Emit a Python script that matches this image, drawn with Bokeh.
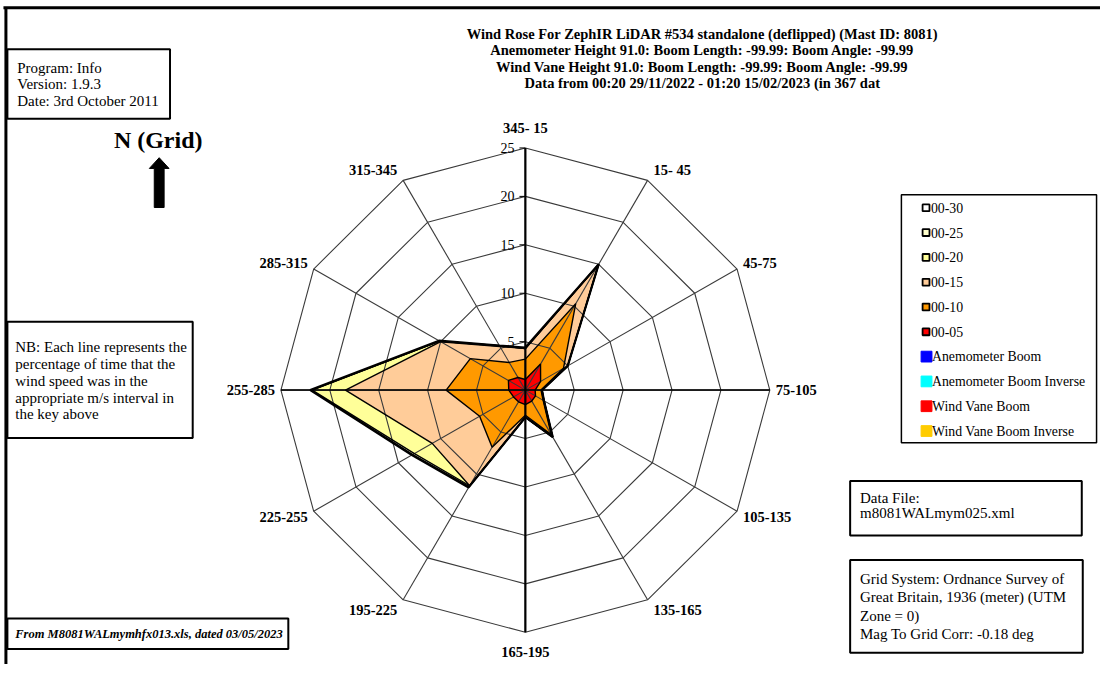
import numpy as np
from bokeh.plotting import figure
from bokeh.models import Range1d
from bokeh.core.properties import value
from bokeh.embed import file_html
from bokeh.resources import INLINE

# ---------------- data ----------------
directions = ["345- 15", "15- 45", "45-75", "75-105", "105-135", "135-165",
              "165-195", "195-225", "225-255", "255-285", "285-315", "315-345"]
dir_angles = [0, 30, 60, 90, 120, 150, 180, 210, 240, 270, 300, 330]

bins = ["00-30", "00-25", "00-20", "00-15", "00-10", "00-05"]
s_00_30 = [4.4, 15.0, 5.0, 1.7, 2.2, 5.6, 2.8, 11.6, 13.4, 22.0, 10.2, 5.3]
s_00_25 = [4.3, 15.0, 5.0, 1.7, 2.2, 5.6, 2.8, 11.5, 13.3, 21.9, 10.1, 5.3]
s_00_20 = [4.3, 15.0, 5.0, 1.7, 2.2, 5.6, 2.8, 11.4, 13.1, 21.8, 10.1, 5.3]
s_00_15 = [4.3, 14.9, 5.0, 1.7, 2.2, 5.5, 2.8, 11.4, 11.0, 18.4, 10.0, 5.2]
s_00_10 = [3.2, 10.3, 4.5, 1.6, 2.1, 5.3, 2.6, 6.8, 5.4, 8.1, 6.5, 3.3]
s_00_05 = [1.1, 3.1, 1.8, 1.0, 1.2, 1.3, 1.5, 1.4, 1.4, 1.7, 2.0, 1.5]
series = [s_00_30, s_00_25, s_00_20, s_00_15, s_00_10, s_00_05]
bin_colors = ["#FFFFFF", "#FFFFCC", "#FFFF99", "#FFCC99", "#FF9900", "#FF0000"]

ring_values = [5, 10, 15, 20, 25]
ring_labels = ["5", "10", "15", "20", "25"]

boom_names = ["Anemometer Boom", "Anemometer Boom Inverse", "Wind Vane Boom", "Wind Vane Boom Inverse"]
boom_colors = ["#0000FF", "#00FFFF", "#FF0000", "#FFCC00"]

title_lines = [
    "Wind Rose For ZephIR LiDAR #534 standalone (deflipped) (Mast ID: 8081)",
    "Anemometer Height 91.0: Boom Length: -99.99: Boom Angle: -99.99",
    "Wind Vane Height 91.0: Boom Length: -99.99: Boom Angle: -99.99",
    "Data from 00:20 29/11/2022 - 01:20 15/02/2023 (in 367 dat",
]
info_lines = ["Program: Info", "Version: 1.9.3", "Date: 3rd October 2011"]
nb_lines = ["NB: Each line represents the", "percentage of time that the",
            "wind speed was in the", "appropriate m/s interval in", "the key above"]
datafile_lines = ["Data File:", "m8081WALmym025.xml"]
grid_lines_txt = ["Grid System: Ordnance Survey of", "Great Britain, 1936 (meter) (UTM",
                  "Zone = 0)", "Mag To Grid Corr: -0.18 deg"]
source_note = "From M8081WALmymhfx013.xls, dated 03/05/2023"

# ---------------- layout ----------------
W, H = 1100, 664
p = figure(width=W, height=H, x_range=Range1d(0, 1116), y_range=Range1d(680, 0),
           output_backend="svg", toolbar_location=None, x_axis_type=None, y_axis_type=None,
           min_border=0)
p.outline_line_color = None
p.grid.visible = False
p.background_fill_color = "white"
p.border_fill_color = "white"

SERIF = value("Liberation Serif")
CX, CY, SC = 532.5, 399.0, 9.92   # rose centre and px per percent
ang = np.radians(dir_angles)

def pol(r, a):
    return CX + np.asarray(r) * SC * np.sin(a), CY - np.asarray(r) * SC * np.cos(a)

# page frame lines
p.line([3, 1116], [7.5, 7.5], line_color="black", line_width=3)
p.line([5.5, 5.5], [7, 680], line_color="black", line_width=3)

# filled series (largest first)
for vals, col in zip(series, bin_colors):
    xs, ys = pol(vals, ang)
    p.patch(list(xs), list(ys), fill_color=col, line_color=None)

# grid rings and spokes
for rv in ring_values:
    xs, ys = pol([rv] * 13, np.radians(dir_angles + [360]))
    p.line(list(xs), list(ys), line_color="#3a3a3a", line_width=1.1)
for a in ang:
    xs, ys = pol([0, 25], np.array([a, a]))
    p.line(list(xs), list(ys), line_color="#3a3a3a", line_width=1.1)
# main axes
xs, ys = pol([25, 25], np.radians([0, 180]))
p.line(list(xs), list(ys), line_color="black", line_width=2.2)
xs, ys = pol([25, 25], np.radians([90, 270]))
p.line(list(xs), list(ys), line_color="black", line_width=1.5)

# series outlines
for i, vals in enumerate(series):
    xs, ys = pol(vals + vals[:1], np.radians(dir_angles + [360]))
    p.line(list(xs), list(ys), line_color="black", line_width=2.2 if i == 0 else 1.4)

# radial tick labels
for rv, lab in zip(ring_values, ring_labels):
    y = CY - rv * SC
    p.line([CX - 6, CX], [y, y], line_color="black", line_width=1)
    p.text([CX - 11], [y], text=[lab], text_font=SERIF, text_font_size="14px",
           text_align="right", text_baseline="middle", text_color="black")

# direction labels
for lab, a in zip(directions, ang):
    vx, vy = pol(25, a)
    s, c = np.sin(a), np.cos(a)
    if abs(s) < 0.1:
        tx, ty = vx, vy - 20 * np.sign(c)
        align = "center"
    else:
        tx, ty = vx + 6 * np.sign(s), vy - 12 * c
        align = "left" if s > 0 else "right"
    p.text([tx], [ty], text=[lab], text_font=SERIF, text_font_size="14.5px",
           text_font_style="bold", text_align=align, text_baseline="middle")

# title
for i, t in enumerate(title_lines):
    p.text([712], [34 + i * 16.8], text=[t], text_font=SERIF, text_font_size="14.5px",
           text_font_style="bold", text_align="center", text_baseline="middle")

def box(x0, y0, x1, y1, lw=2):
    p.quad(left=[x0], right=[x1], top=[y0], bottom=[y1], fill_color="white",
           line_color="black", line_width=lw)

def lines(x, y0, dy, txts, size="15px", style="normal"):
    p.text([x] * len(txts), [y0 + i * dy for i in range(len(txts))], text=txts,
           text_font=SERIF, text_font_size=size, text_font_style=style,
           text_baseline="middle", text_align="left")

# info box
box(7, 50, 172, 121)
lines(17, 69, 16.8, info_lines)

# N arrow
p.text([160], [143], text=["N (Grid)"], text_font=SERIF, text_font_size="24px",
       text_font_style="bold", text_align="center", text_baseline="middle")
p.patch([156, 166, 166, 171, 161, 151, 156], [212, 212, 172, 172, 161, 172, 172],
        fill_color="black", line_color="black")

# NB box
box(7, 329, 195, 448)
lines(15, 355, 17.2, nb_lines, size="15px")

# source note
box(7, 633, 292, 664)
p.text([15], [649], text=[source_note], text_font=SERIF, text_font_size="12.5px",
       text_font_style="bold italic", text_baseline="middle")

# legend
box(914, 199, 1112, 453, lw=1.5)
ly = 212.3
for name, col in zip(bins, bin_colors):
    p.rect([939], [ly], width=7, height=7, fill_color=col, line_color="black", line_width=1.8)
    lines(944, ly, 0, [name], size="13.8px")
    ly += 25.4
for name, col in zip(boom_names, boom_colors):
    p.rect([939.5], [ly], width=11, height=11, fill_color=col, line_color=col, line_width=1)
    lines(945, ly, 0, [name], size="13.8px")
    ly += 25.4

# data file box
box(862, 492, 1097, 548)
lines(872, 509, 15.5, datafile_lines)

# grid system box
box(862, 573, 1098, 668)
lines(872, 592, 19, grid_lines_txt)

open("out.html", "w").write(file_html(p, INLINE))
